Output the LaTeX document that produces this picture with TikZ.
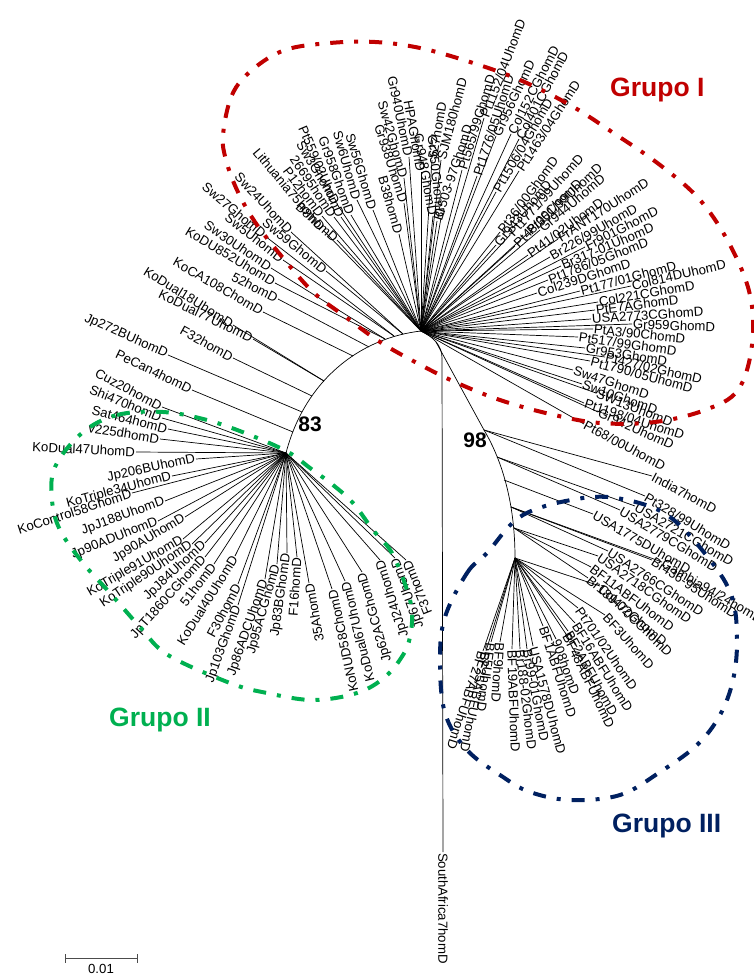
\documentclass[tikz,border=0pt]{standalone}
\usepackage{fontspec}
\setmainfont{Liberation Sans}
\definecolor{gred}{RGB}{192,0,0}
\definecolor{ggreen}{RGB}{0,176,80}
\definecolor{gblue}{RGB}{0,32,96}
\tikzset{
 br/.style={line width=0.7pt, black},
 lbl/.style={font=\fontsize{13.2}{14}\selectfont, inner sep=0.8pt},
 grp/.style={line width=4pt, dash pattern=on 13pt off 11pt on 4pt off 11pt},
 boot/.style={font=\bfseries\fontsize{21}{22}\selectfont, inner sep=0pt},
 glab/.style={font=\bfseries\fontsize{26.5}{28}\selectfont, inner sep=0pt, anchor=base west},
}
\newcommand\lfW[6]{\node[lbl,rotate=#5,anchor=west] (#1) at (#3,#4) {#6}; \draw[br] (#2) -- (#1.west);}
\newcommand\lfE[6]{\node[lbl,rotate=#5,anchor=east] (#1) at (#3,#4) {#6}; \draw[br] (#2) -- (#1.east);}
\begin{document}
\begin{tikzpicture}[x=1pt,y=-1pt]
\useasboundingbox (0,0) rectangle (754,976);
% internal nodes
\coordinate (C) at (421,331);
\coordinate (N83) at (286,453);
\coordinate (J) at (442,358);
\coordinate (Q) at (436,342);
\coordinate (S1) at (484,430);
\coordinate (S2) at (497,457);
\coordinate (S3) at (504,480);
\coordinate (S4) at (511,507);
\coordinate (S5) at (514,528);
\coordinate (N3) at (515,558);
\coordinate (p10) at (403,334);
\coordinate (p15) at (394,336);
\coordinate (p20) at (385,339);
\coordinate (p30) at (369,347);
\coordinate (p40) at (353,356);
\coordinate (p50) at (338,367);
\coordinate (p60) at (324,381);
\coordinate (p70) at (312,396);
\coordinate (p80) at (302,412);
\coordinate (p90) at (293,432);
\draw[br] (C) .. controls (360,338) and (305,380) .. (N83);
\draw[br] (C) .. controls (433,337) and (442,345) .. (J);
\draw[br] (Q) -- (S1) .. controls (503,462) and (515,505) .. (N3);
% Group I, left (flipped)
\lfE{a1}{p10}{291}{232}{-47}{Sw24UhomD}
\lfE{a2}{p15}{265}{236}{-40}{Sw27GhomD}
\lfE{a3}{p10}{326}{271}{-39}{Sw59GhomD}
\lfE{a4}{p15}{283}{260}{-38}{Sw5UhomD}
\lfE{a5}{p20}{271}{268}{-34}{Sw30UhomD}
\lfE{a6}{C}{323}{230}{-50}{Lithuania75homD}
\lfE{a7}{C}{337}{240}{-42}{B8homD}
\lfE{a8}{C}{322}{216}{-53}{P12homD}
\lfE{a9}{C}{334}{217}{-56}{26695homD}
\lfE{a10}{C}{337}{204}{-59}{Sw3GhomD}
\lfE{a11}{C}{341}{217}{-67}{Pt559/02UhomD}
\lfE{a12}{C}{351}{215}{-70}{Gr958GhomD}
\lfE{a13}{C}{357}{200}{-74}{Sw6UhomD}
\lfE{a14}{C}{373}{210}{-73}{Sw56GhomD}
\lfE{a15}{C}{404}{203}{-72}{Gr938UhomD}
\lfE{a16}{C}{399}{234}{-74}{B38homD}
\lfE{a17}{C}{404}{178}{-74}{Sw42GhomD}
\lfE{a18}{C}{409}{157}{-78}{Gr940UhomD}
\lfE{a19}{C}{421}{172}{-80}{HPAGhomD}
\lfE{a20}{C}{433}{216}{-80}{Gr948GhomD}
\lfE{a21}{C}{441}{218}{-84}{Gr950GhomD}
% Group I, right (normal)
\lfW{a22}{C}{432}{160}{80}{527homD}
\lfW{a23}{C}{441}{160}{75}{SJM180homD}
\lfW{a24}{C}{437}{221}{72}{Br503-97GhomD}
\lfW{a25}{C}{462}{170}{73}{Pt565/99GhomD}
\lfW{a26}{C}{477}{176}{72}{Pt1776/05UhomD}
\lfW{a27}{C}{484}{118}{69}{Pt1152/04UhomD}
\lfW{a28}{C}{496}{136}{65}{Gr956GhomD}
\lfW{a29}{C}{511}{134}{63}{Col152CGhomD}
\lfW{a30}{C}{519}{139}{62}{Col401CGhomD}
\lfW{a31}{C}{496}{192}{60}{Pt1506/04GhomD}
\lfW{a32}{C}{519}{171}{57}{Pt1463/04GhomD}
\lfW{a33}{C}{500}{232}{53}{Pt36/00GhomD}
\lfW{a34}{C}{496}{245}{50}{Gr943UhomD}
\lfW{a35}{C}{510}{235}{48}{Pt1771/99UhomD}
\lfW{a36}{C}{515}{246}{45}{Pt48/00ChomD}
\lfW{a37}{C}{528}{233}{43}{Pt351/99UhomD}
\lfW{a38}{C}{540}{230}{40}{Gr944UhomD}
\lfW{a39}{C}{528}{255}{36}{Pt41/02UhomD}
\lfW{a40}{C}{558}{239}{33}{FrANT170UhomD}
\lfW{a41}{C}{550}{257}{30}{Br226/99UhomD}
\lfW{a42}{C}{585}{247}{27}{Fr901GhomD}
\lfW{a43}{C}{561}{266}{23}{Br317-01UhomD}
\lfW{a44}{C}{548}{280}{21}{Pt1786/05GhomD}
\lfW{a45}{C}{537}{293}{18}{Col239DGhomD}
\lfW{a46}{C}{580}{291}{15}{Pt177/01GhomD}
\lfW{a47}{C}{631}{286}{13}{Col814DUhomD}
\lfW{a48}{C}{598}{302}{10}{Col221CGhomD}
\lfW{a49}{C}{595}{310}{7}{PtE7AGhomD}
\lfW{a50}{C}{591}{319}{4}{USA2773CGhomD}
\lfW{a51}{C}{632}{324}{-2}{Gr959GhomD}
\lfW{a52}{C}{593}{329}{-6}{PtA3/90ChomD}
\lfW{a53}{C}{578}{337}{-8}{Pt517/99GhomD}
\lfW{a54}{C}{585}{348}{-9}{Gr953GhomD}
\lfW{a55}{C}{605}{357}{-13}{Pt427/02GhomD}
\lfW{a56}{C}{590}{361}{-15}{Pt1790/05UhomD}
\lfW{a57}{C}{573}{370}{-18}{Sw47GhomD}
\lfW{a58}{C}{582}{384}{-19}{Sw10GhomD}
\lfW{a59}{C}{596}{393}{-21}{SW13UhomD}
\lfW{a60}{C}{584}{403}{-18}{Pt1198/04UhomD}
\lfW{a61}{C}{598}{412}{-24}{Gr942UhomD}
\lfW{a62}{C}{584}{424}{-28}{Pt68/00UhomD}
% outside groups
\lfE{b1}{p20}{275}{283}{-31}{KoDU852UhomD}
\lfE{b2}{p30}{278}{299}{-27}{52homD}
\lfE{b3}{p40}{263}{312}{-30}{KoCA108ChomD}
\lfE{b4}{p60}{233}{325}{-32}{KoDual18UhomD}
\lfE{b5}{p60}{253}{339}{-26}{KoDual77UhomD}
\lfE{b6}{p70}{233}{358}{-29}{F32homD}
\lfE{b7}{p80}{168}{355}{-24}{Jp272BUhomD}
\lfE{b8}{p90}{192}{390}{-26}{PeCan4homD}
% Group II
\lfE{c1}{N83}{162}{407}{-28}{Cuz20homD}
\lfE{c2}{N83}{162}{418}{-22}{Shi470homD}
\lfE{c3}{N83}{168}{429}{-14}{Sat464homD}
\lfE{c4}{N83}{160}{439}{-9}{v225dhomD}
\lfE{c5}{N83}{136}{452}{-3}{KoDual47UhomD}
\lfE{c6}{N83}{196}{459}{12}{Jp206BUhomD}
\lfE{c7}{N83}{172}{476}{15}{KoTriple34UhomD}
\lfE{c8}{N83}{132}{493}{18}{KoControl58GhomD}
\lfE{c9}{N83}{165}{501}{20}{JpJ188UhomD}
\lfE{c10}{N83}{158}{521}{22}{Jp90ADUhomD}
\lfE{c11}{N83}{185}{517}{31}{Jp90AUhomD}
\lfE{c12}{N83}{183}{539}{30}{KoTriple91UhomD}
\lfE{c13}{N83}{192}{544}{34}{KoTriple90UhomD}
\lfE{c14}{N83}{205}{543}{43}{JpJ84UhomD}
\lfE{c15}{N83}{205}{557}{48}{JpT1860CGhomD}
\lfE{c16}{N83}{214}{564}{52}{51homD}
\lfE{c17}{N83}{235}{556}{58}{KoDual40UhomD}
\lfE{c18}{N83}{238}{584}{62}{F30homD}
\lfE{c19}{N83}{238}{605}{70}{Jp103GhomD}
\lfE{c20}{N83}{265}{579}{71}{Jp86ADCUhomD}
\lfE{c21}{N83}{277}{564}{74}{Jp95ACGhomD}
\lfE{c22}{N83}{287}{553}{82}{Jp83BGhomD}
\lfE{c23}{N83}{297}{557}{86}{F16homD}
\lfE{c24}{N83}{309}{583}{100}{35AhomD}
\lfE{c25}{N83}{332}{589}{102}{KoNUD58ChomD}
\lfE{c26}{N83}{345}{581}{104}{KoDual67UhomD}
\lfE{c27}{N83}{362}{572}{106}{Jp62ACGhomD}
\lfE{c28}{N83}{380}{560}{108}{JpJ24UhomD}
\lfE{c29}{N83}{395}{558}{110}{Jp67UhomD}
\lfE{c30}{N83}{406}{560}{112}{F37homD}
% Group III
\lfW{d1}{S1}{652}{476}{-28}{India7homD}
\lfW{d2}{S1}{645}{496}{-31}{Pt328/99UhomD}
\lfW{d3}{S2}{635}{506}{-30}{USA2721CGhomD}
\lfW{d4}{S2}{620}{510}{-31}{USA2779CGhomD}
\lfW{d5}{S3}{593}{514}{-30}{USA1775DUhomD}
\lfW{d6}{S4}{662}{562}{-30}{Gambia94/24homD}
\lfW{d7}{S4}{652}{560}{-33}{Br436-95UhomD}
\lfW{d8}{S4}{608}{551}{-33}{USA2766CGhomD}
\lfW{d9}{S5}{598}{556}{-35}{USA2718CGhomD}
\lfW{d10}{S5}{591}{567}{-37}{BF11ABFUhomD}
\lfW{d11}{S5}{588}{578}{-40}{Br189-02GhomD}
\lfW{d12}{N3}{600}{586}{-44}{Col470CGhomD}
\lfW{d13}{N3}{605}{615}{-48}{BF3UhomD}
\lfW{d14}{N3}{578}{608}{-55}{Pt701/02UhomD}
\lfW{d15}{N3}{575}{623}{-58}{BF16ABFUhomD}
\lfW{d16}{N3}{568}{631}{-61}{BF2ABFUhomD}
\lfW{d17}{N3}{566}{634}{-64}{BF48ABFUhomD}
\lfW{d18}{N3}{556}{639}{-70}{908homD}
\lfW{d19}{N3}{543}{626}{-72}{BF1ABFUhomD}
\lfW{d20}{N3}{533}{646}{-75}{USA1578DUhomD}
\lfW{d21}{N3}{527}{649}{-79}{Br99-01GhomD}
\lfW{d22}{N3}{520}{649}{-83}{Br188-02GhomD}
\lfW{d23}{N3}{512}{649}{-88}{BF19ABFUhomD}
\lfW{d24}{N3}{500}{642}{-94}{BF9homD}
\lfW{d25}{N3}{491}{642}{-98}{BF5UhomD}
\lfW{d26}{N3}{486}{651}{-102}{BF25ABFUhomD}
\lfW{d27}{N3}{483}{651}{-108}{BF27ABFUhomD}
\lfW{d28}{J}{443}{852}{-90}{SouthAfrica7homD}
% bootstrap values
\node[boot] (v83) at (310,424) {83};
\node[boot] (v98) at (475,440) {98};
% group outlines
\draw[grp, gred] plot[smooth cycle, tension=0.6] coordinates {(223,135) (232,95) (252,70) (285,50) (330,43) (375,42) (420,48) (470,62) (520,80) (570,105) (612,132) (660,165) (700,200) (730,245) (750,295) (752,345) (738,390) (705,410) (655,422) (600,423) (550,414) (500,400) (455,382) (417,363) (380,342) (343,315) (313,292) (283,258) (255,222) (237,190) (226,160)};
\draw[grp, ggreen] plot[smooth cycle, tension=0.6] coordinates {(82,433) (117,415) (163,412) (207,420) (250,435) (288,452) (310,468) (333,485) (353,503) (373,530) (392,553) (407,590) (412,613) (410,637) (403,655) (385,677) (357,693) (313,700) (267,693) (230,683) (168,655) (140,627) (110,593) (83,563) (60,530) (52,500) (55,467)};
\draw[grp, gblue] plot[smooth cycle, tension=0.6] coordinates {(445,617) (467,573) (487,553) (523,515) (583,498) (627,500) (670,517) (710,560) (732,597) (737,640) (733,680) (720,715) (697,745) (660,772) (620,795) (570,800) (530,792) (503,777) (467,750) (445,713) (440,660)};
\node[glab, text=gred] (g1) at (610,97) {Grupo I};
\node[glab, text=ggreen] (g2) at (109,726) {Grupo II};
\node[glab, text=gblue] (g3) at (612,832) {Grupo III};
% scale bar
\coordinate (sb1) at (65,958);
\coordinate (sb2) at (137,958);
\draw[line width=1pt, black!70] (sb1) -- (sb2);
\draw[line width=1pt, black!70] ([yshift=4pt]sb1) -- ([yshift=-5pt]sb1);
\draw[line width=1pt, black!70] ([yshift=4pt]sb2) -- ([yshift=-5pt]sb2);
\node[lbl, anchor=north] (sbl) at (101,963) {0.01};
\end{tikzpicture}
\end{document}
